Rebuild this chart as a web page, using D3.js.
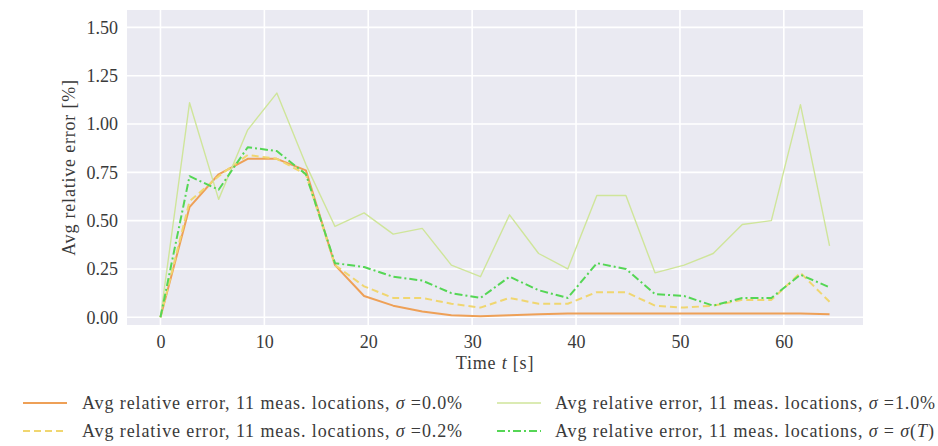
<!DOCTYPE html>
<html>
<head>
<meta charset="utf-8">
<script src="https://cdn.jsdelivr.net/npm/d3@7"></script>
<style>
  html, body { margin: 0; padding: 0; background: #ffffff; }
  svg { display: block; }
  text { font-family: "Liberation Serif", "DejaVu Serif", serif; fill: #3a3a3a; }
</style>
</head>
<body>
<svg id="chart" width="938" height="446"></svg>
<script>
// Sample times (s)
const times = [0, 2.8, 5.6, 8.4, 11.2, 14.0, 16.8, 19.6, 22.4, 25.2, 28.0, 30.8,
               33.6, 36.4, 39.2, 42.0, 44.8, 47.6, 50.4, 53.2, 56.0, 58.8, 61.6, 64.4];

// Average relative error [%] per noise level
const err00 = [0, 0.57, 0.74, 0.82, 0.82, 0.76, 0.27, 0.11, 0.06, 0.03, 0.01, 0.005,
               0.01, 0.015, 0.02, 0.02, 0.02, 0.02, 0.02, 0.02, 0.02, 0.02, 0.02, 0.015];
const err02 = [0, 0.60, 0.73, 0.84, 0.82, 0.74, 0.27, 0.16, 0.10, 0.10, 0.07, 0.05,
               0.10, 0.07, 0.07, 0.13, 0.13, 0.06, 0.05, 0.06, 0.09, 0.09, 0.23, 0.08];
const err10 = [0, 1.11, 0.61, 0.97, 1.16, 0.79, 0.47, 0.54, 0.43, 0.46, 0.27, 0.21,
               0.53, 0.33, 0.25, 0.63, 0.63, 0.23, 0.27, 0.33, 0.48, 0.50, 1.10, 0.37];
const errSig = [0, 0.73, 0.66, 0.88, 0.86, 0.74, 0.28, 0.26, 0.21, 0.19, 0.125, 0.10,
                0.21, 0.14, 0.10, 0.28, 0.25, 0.12, 0.11, 0.06, 0.10, 0.10, 0.22, 0.155];

const xTicks = [0, 10, 20, 30, 40, 50, 60];
const yTicks = [0, 0.25, 0.5, 0.75, 1.0, 1.25, 1.5];

const labelBase = "Avg relative error, 11 meas. locations, ";
const series = [
  { values: err00, color: "#eea057", width: 2.0, dash: null,          suffix: [["σ", true], [" =0.0%", false]] },
  { values: err02, color: "#f0d670", width: 2.0, dash: "7,4",         suffix: [["σ", true], [" =0.2%", false]] },
  { values: err10, color: "#cfe59a", width: 1.4, dash: null,          suffix: [["σ", true], [" =1.0%", false]] },
  { values: errSig, color: "#55d655", width: 2.0, dash: "8,3,2,3",    suffix: [["σ", true], [" = ", false], ["σ", true], ["(", false], ["T", true], [")", false]] }
];

const svg = d3.select("#chart");
const plot = { left: 127, right: 863, top: 10, bottom: 325 };

const x = d3.scaleLinear().domain([-3.22, 67.62]).range([plot.left, plot.right]);
const y = d3.scaleLinear().domain([-0.04, 1.59]).range([plot.bottom, plot.top]);

// Panel background
svg.append("rect")
  .attr("x", plot.left).attr("y", plot.top)
  .attr("width", plot.right - plot.left).attr("height", plot.bottom - plot.top)
  .attr("fill", "#eaeaf2");

// Grid lines
const grid = svg.append("g");
grid.selectAll("line.gx").data(xTicks).join("line")
  .attr("x1", d => x(d)).attr("x2", d => x(d))
  .attr("y1", plot.top).attr("y2", plot.bottom)
  .attr("stroke", "#ffffff").attr("stroke-width", 1.6);
grid.selectAll("line.gy").data(yTicks).join("line")
  .attr("y1", d => y(d)).attr("y2", d => y(d))
  .attr("x1", plot.left).attr("x2", plot.right)
  .attr("stroke", "#ffffff").attr("stroke-width", 1.6);

// Axes (labels only, no tick marks)
const xAxis = svg.append("g")
  .attr("transform", `translate(0,${plot.bottom})`)
  .call(d3.axisBottom(x).tickValues(xTicks).tickSize(0).tickPadding(10).tickFormat(d3.format("d")));
const yAxis = svg.append("g")
  .attr("transform", `translate(${plot.left},0)`)
  .call(d3.axisLeft(y).tickValues(yTicks).tickSize(0).tickPadding(9).tickFormat(d3.format(".2f")));
[xAxis, yAxis].forEach(a => {
  a.select(".domain").remove();
  a.selectAll("text").attr("font-size", 18).attr("font-family", "Liberation Serif").attr("fill", "#3a3a3a");
});

// Axis titles
const xt = svg.append("text")
  .attr("x", (plot.left + plot.right) / 2).attr("y", 369)
  .attr("text-anchor", "middle").attr("font-size", 18)
  .attr("letter-spacing", 0.8);
xt.append("tspan").text("Time ");
xt.append("tspan").attr("font-style", "italic").text("t");
xt.append("tspan").text(" [s]");

svg.append("text")
  .attr("transform", `translate(75,${(plot.top + plot.bottom) / 2}) rotate(-90)`)
  .attr("text-anchor", "middle").attr("font-size", 18)
  .attr("letter-spacing", 0.8)
  .text("Avg relative error [%]");

// Lines
const line = vals => d3.line().x((d, i) => x(times[i])).y(d => y(d))(vals);
const linesG = svg.append("g");
series.forEach(s => {
  linesG.append("path")
    .attr("d", line(s.values))
    .attr("fill", "none")
    .attr("stroke", s.color)
    .attr("stroke-width", s.width)
    .attr("stroke-dasharray", s.dash)
    .attr("stroke-linejoin", "round");
});

// Legend: two columns, filled column-wise
const legendPos = [
  { lx: 23, tx: 82, ty: 409 },
  { lx: 23, tx: 82, ty: 437 },
  { lx: 497, tx: 555, ty: 409 },
  { lx: 497, tx: 555, ty: 437 }
];
series.forEach((s, i) => {
  const p = legendPos[i];
  svg.append("line")
    .attr("x1", p.lx).attr("x2", p.lx + 44)
    .attr("y1", p.ty - 6).attr("y2", p.ty - 6)
    .attr("stroke", s.color).attr("stroke-width", s.width)
    .attr("stroke-dasharray", s.dash);
  const t = svg.append("text").attr("x", p.tx).attr("y", p.ty)
    .attr("font-size", 18).attr("letter-spacing", 0.9);
  t.append("tspan").text(labelBase);
  s.suffix.forEach(([str, it]) => {
    const ts = t.append("tspan").text(str);
    if (it) ts.attr("font-style", "italic");
  });
});
</script>
</body>
</html>
